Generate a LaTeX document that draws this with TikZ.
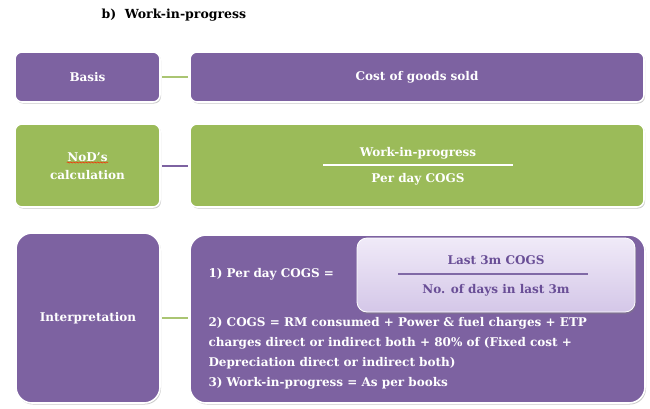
\documentclass[tikz,border=0pt]{standalone}
\usepackage{fontspec}
\setmainfont{DejaVu Serif}
\usetikzlibrary{shadows,decorations.pathmorphing}
\definecolor{pur}{RGB}{125,98,161}
\definecolor{grn}{RGB}{155,187,89}
\definecolor{lav1}{RGB}{240,234,248}
\definecolor{lav2}{RGB}{212,199,232}
\definecolor{dpur}{RGB}{105,78,150}
\begin{document}
\begin{tikzpicture}[x=1pt,y=-1pt,
  box/.style={draw=white,line width=1.6pt,rounded corners=7pt,
    drop shadow={shadow xshift=1pt,shadow yshift=-1.5pt,opacity=0.35,fill=black!60}},
  bigbox/.style={box,rounded corners=16pt},
  txt/.style={font=\bfseries\fontsize{12}{14}\selectfont,text=white},
  link/.style={line width=2.2pt}]
\useasboundingbox (0,0) rectangle (650,408);
\node[font=\bfseries\fontsize{12.5}{14}\selectfont,anchor=west] (title) at (98,15) {b)\ \ Work-in-progress};
% row 1
\draw[box,fill=pur] (15,52) rectangle (160,102);
\draw[box,fill=pur] (190,52) rectangle (644,102);
\node[txt] (basis) at (87.5,77) {Basis};
\node[txt] (cogs) at (417,77) {Cost of goods sold};
\coordinate (b1) at (162,77);
\coordinate (b2) at (188,77);
\draw[link,grn!85!white] (b1) -- (b2);
% row 2
\draw[box,fill=grn] (15,124) rectangle (160,207);
\draw[box,fill=grn] (190,124) rectangle (644,207);
\node[txt] (nod) at (87.5,157) {NoD’s};
\node[txt] (calc) at (87.5,175) {calculation};
\coordinate (s1) at (nod.south west);
\draw[red!70!orange,decorate,decoration={snake,amplitude=0.6pt,segment length=3pt},line width=0.5pt]
  ([xshift=3pt,yshift=2.5pt]nod.south west) -- ([xshift=-3pt,yshift=2.5pt]nod.south east);
\node[txt] (wip) at (418,153) {Work-in-progress};
\node[txt] (pdc) at (418,179) {Per day COGS};
\coordinate (f1) at (323,165);
\coordinate (f2) at (513,165);
\draw[white,line width=2.2pt,drop shadow={shadow xshift=0.5pt,shadow yshift=-1pt,opacity=0.3}] (f1) -- (f2);
\coordinate (g1) at (162,166);
\coordinate (g2) at (188,166);
\draw[link,pur] (g1) -- (g2);
% row 3
\draw[bigbox,fill=pur] (16,233) rectangle (160,403);
\draw[bigbox,fill=pur] (190,235) rectangle (645,403);
\node[txt] (interp) at (88,318) {Interpretation};
\coordinate (h1) at (162,318);
\coordinate (h2) at (188,318);
\draw[link,grn!85!white] (h1) -- (h2);
\node[txt,anchor=west] (p1) at (205,274) {1) Per day COGS =};
\shade[top color=lav1,bottom color=lav2,draw=white,line width=0.8pt,rounded corners=10pt,
  drop shadow={shadow xshift=1pt,shadow yshift=-2pt,opacity=0.4}] (357,238) rectangle (635,312);
\node[txt,text=dpur] (l3m) at (496,260) {Last 3m COGS};
\node[txt,text=dpur] (nod3) at (496,290) {No. of days in last 3m};
\coordinate (k1) at (398,274);
\coordinate (k2) at (588,274);
\draw[dpur!85,line width=2.2pt] (k1) -- (k2);
\node[txt,anchor=west] (p2a) at (205,323) {2) COGS = RM consumed + Power \& fuel charges + ETP};
\node[txt,anchor=west] (p2b) at (205,343) {charges direct or indirect both + 80\% of (Fixed cost +};
\node[txt,anchor=west] (p2c) at (205,363) {Depreciation direct or indirect both)};
\node[txt,anchor=west] (p3) at (205,383) {3) Work-in-progress = As per books};
\end{tikzpicture}
\end{document}
